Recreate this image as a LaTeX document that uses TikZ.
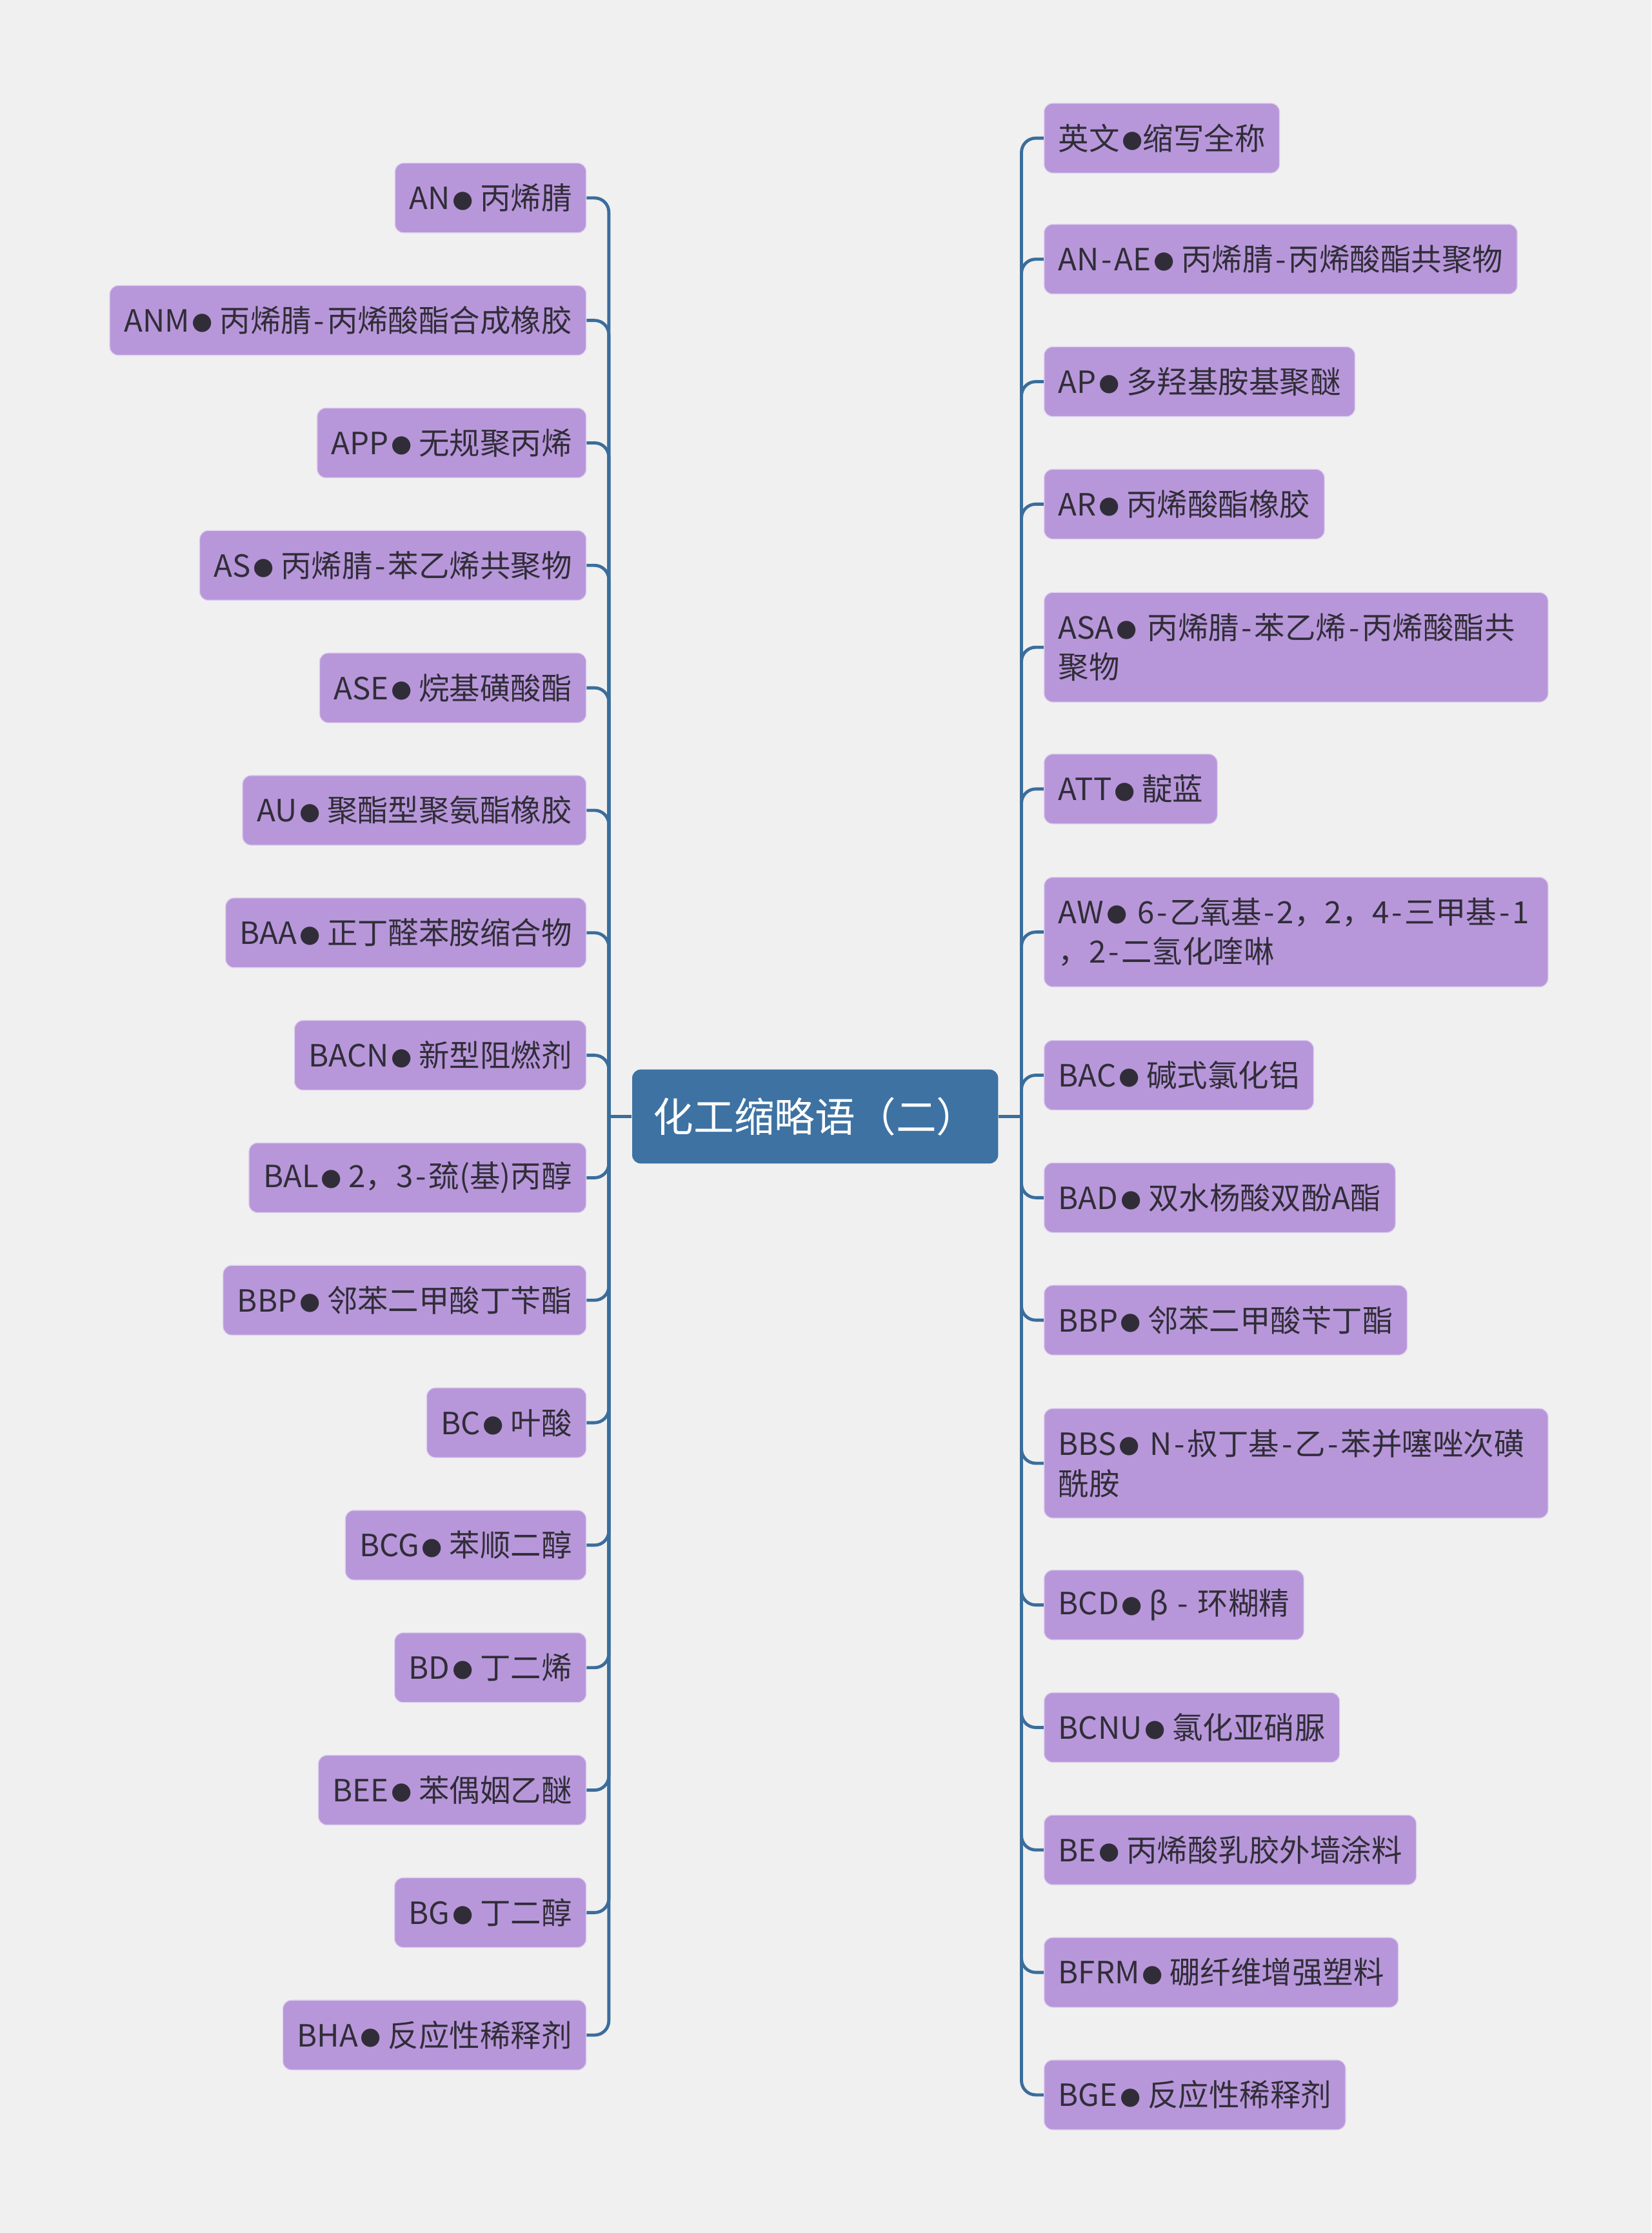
\documentclass[tikz,border=0pt]{standalone}
\usepackage{fontspec}
\setmainfont{Noto Sans CJK SC}
\newfontfamily\symfont{DejaVu Sans}
\usetikzlibrary{positioning,calc}

\definecolor{bgcol}{HTML}{F0F0F0}
\definecolor{rootcol}{HTML}{3D72A3}
\definecolor{leafcol}{HTML}{B797DA}
\definecolor{linkcol}{HTML}{3A6D9C}
\definecolor{txtcol}{HTML}{312D38}

\newcommand\bul{\hspace{0.08em}\raisebox{0.08em}{\scalebox{0.78}{\symfont ●}}}
\newcommand\hy{\kern0.08em-\kern0.08em}

\tikzset{
  root/.style={fill=rootcol, rounded corners=3pt, text=white,
    font=\fontsize{14.2}{16}\selectfont, minimum width=128.5pt,
    minimum height=33pt, inner xsep=7pt},
  leaf/.style={fill=leafcol, draw=white!55!leafcol, line width=0.3pt,
    rounded corners=3pt, text=txtcol, font=\fontsize{10.75}{14}\selectfont,
    minimum height=24.5pt, inner xsep=5pt, inner ysep=0pt},
  leafwide/.style={leaf, text width=167pt, align=left, minimum height=38.5pt},
  link/.style={draw=linkcol, line width=1.1pt, rounded corners=5pt},
}

\begin{document}
\begin{tikzpicture}[x=0.5pt, y=-0.5pt]
    % Canvas
    \fill[bgcol] (0,0) rectangle (1160,1568);

    % Root
    \node[root] (root) at (572.5,784) {化工缩略语（二）};

    % Left leaves
    \foreach \i/\txt in {1/{AN\bul{} 丙烯腈}, 2/{ANM\bul{} 丙烯腈\hy 丙烯酸酯合成橡胶},
                         3/{APP\bul{} 无规聚丙烯}, 4/{AS\bul{} 丙烯腈\hy 苯乙烯共聚物},
                         5/{ASE\bul{} 烷基磺酸酯}, 6/{AU\bul{} 聚酯型聚氨酯橡胶},
                         7/{BAA\bul{} 正丁醛苯胺缩合物}, 8/{BACN\bul{} 新型阻燃剂},
                         9/{BAL\bul{} 2，3\hy 巯(基)丙醇}, 10/{BBP\bul{} 邻苯二甲酸丁苄酯},
                         11/{BC\bul{} 叶酸}, 12/{BCG\bul{} 苯顺二醇},
                         13/{BD\bul{} 丁二烯}, 14/{BEE\bul{} 苯偶姻乙醚},
                         15/{BG\bul{} 丁二醇}, 16/{BHA\bul{} 反应性稀释剂}} {
        \node[leaf, anchor=east] (l\i) at (412, {139+86*(\i-1)}) {\txt};
    }

    % Right leaves
    \foreach \i/\y/\sty/\txt in {1/97/leaf/{英文\bul{}缩写全称},
                                 2/182/leaf/{AN\hy AE\bul{} 丙烯腈\hy 丙烯酸酯共聚物},
                                 3/268/leaf/{AP\bul{} 多羟基胺基聚醚},
                                 4/354/leaf/{AR\bul{} 丙烯酸酯橡胶},
                                 5/454.5/leafwide/{ASA\bul{} 丙烯腈\hy 苯乙烯\hy 丙烯酸酯共\\聚物},
                                 6/554/leaf/{ATT\bul{} 靛蓝},
                                 7/654.5/leafwide/{AW\bul{} 6\hy 乙氧基\hy 2，2，4\hy 三甲基\hy 1\\，2\hy 二氢化喹啉},
                                 8/755/leaf/{BAC\bul{} 碱式氯化铝},
                                 9/841/leaf/{BAD\bul{} 双水杨酸双酚A酯},
                                 10/927/leaf/{BBP\bul{} 邻苯二甲酸苄丁酯},
                                 11/1027.5/leafwide/{BBS\bul{} N\hy 叔丁基\hy 乙\hy 苯并噻唑次磺\\酰胺},
                                 12/1127/leaf/{BCD\bul{} β \hy{} 环糊精},
                                 13/1213/leaf/{BCNU\bul{} 氯化亚硝脲},
                                 14/1299/leaf/{BE\bul{} 丙烯酸乳胶外墙涂料},
                                 15/1385/leaf/{BFRM\bul{} 硼纤维增强塑料},
                                 16/1471/leaf/{BGE\bul{} 反应性稀释剂}} {
        \node[\sty, anchor=west] (r\i) at (733, \y) {\txt};
    }

    % Connectors
    \coordinate (lj) at ([xshift=-8pt]root.west);
    \coordinate (rj) at ([xshift=8pt]root.east);
    \draw[link] (root.west) -- (lj);
    \draw[link] (root.east) -- (rj);
    \foreach \i in {1,...,16} {
        \draw[link] (l\i.east) -| (lj);
        \draw[link] (r\i.west) -| (rj);
    }
\end{tikzpicture}
\end{document}
